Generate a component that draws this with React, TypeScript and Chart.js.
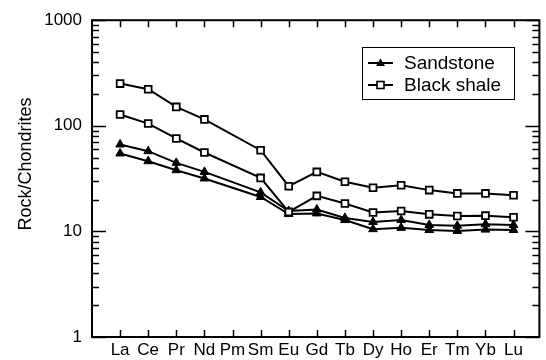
import React, { useEffect, useRef } from 'react';
import { Chart, registerables } from 'chart.js';

Chart.register(...registerables);

const elements = ['La', 'Ce', 'Pr', 'Nd', 'Pm', 'Sm', 'Eu', 'Gd', 'Tb', 'Dy', 'Ho', 'Er', 'Tm', 'Yb', 'Lu'];
const sandstoneA = [66.5, 57.5, 44.6, 36.6, null, 23.4, 15.6, 16.1, 13.4, 12.3, 12.8, 11.5, 11.3, 11.7, 11.5];
const sandstoneB = [54.7, 46.2, 38.0, 31.7, null, 21.2, 14.6, 14.8, 12.8, 10.5, 10.8, 10.3, 10.1, 10.4, 10.3];
const shaleA = [251, 222, 151, 115, null, 58.7, 26.8, 36.6, 29.5, 25.9, 27.4, 24.6, 22.9, 22.9, 22.0];
const shaleB = [128, 105, 75.9, 55.9, null, 32.1, 15.3, 21.7, 18.4, 15.1, 15.6, 14.5, 14.0, 14.1, 13.6];
const yMajorTicks = [1, 10, 100, 1000];
const legendLabels = ['Sandstone', 'Black shale'];
const yTitle = 'Rock/Chondrites';

const FONT = '"Liberation Sans", Arial, Helvetica, sans-serif';

const toPoints = (arr: (number | null)[]) => arr.map((v, i) => ({ x: i, y: v }));

const framePlugin = {
  id: 'frameTicks',
  beforeDatasetsDraw(chart: any) {
    const { ctx, chartArea } = chart;
    const { left, right, top, bottom } = chartArea;
    const xs = chart.scales.x;
    const ys = chart.scales.y;
    ctx.save();
    ctx.strokeStyle = '#000';
    ctx.lineWidth = 1.5;
    ctx.beginPath();
    elements.forEach((_, i) => {
      const px = Math.round(xs.getPixelForValue(i)) + 0.5;
      ctx.moveTo(px, bottom);
      ctx.lineTo(px, bottom - 7);
      ctx.moveTo(px, top);
      ctx.lineTo(px, top + 7);
    });
    yMajorTicks.forEach((d, idx) => {
      const py = Math.round(ys.getPixelForValue(d)) + 0.5;
      ctx.moveTo(left, py);
      ctx.lineTo(left + 14, py);
      ctx.moveTo(right, py);
      ctx.lineTo(right - 14, py);
      if (idx < yMajorTicks.length - 1) {
        for (let k = 2; k <= 9; k++) {
          const pm = Math.round(ys.getPixelForValue(d * k)) + 0.5;
          ctx.moveTo(left, pm);
          ctx.lineTo(left + 7, pm);
          ctx.moveTo(right, pm);
          ctx.lineTo(right - 7, pm);
        }
      }
    });
    ctx.stroke();
    ctx.lineWidth = 2;
    ctx.strokeRect(left, top, right - left, bottom - top);
    ctx.restore();
  },
  afterDraw(chart: any) {
    const { ctx } = chart;
    ctx.save();
    ctx.fillStyle = '#000';
    ctx.font = `18px ${FONT}`;
    ctx.translate(31, 164);
    ctx.rotate(-Math.PI / 2);
    ctx.textAlign = 'center';
    ctx.textBaseline = 'alphabetic';
    ctx.fillText(yTitle, 0, 0);
    ctx.restore();

    ctx.save();
    ctx.strokeStyle = '#000';
    ctx.lineWidth = 1;
    ctx.strokeRect(362.5, 47.5, 152, 52);
    const rows = [63, 85];
    rows.forEach((y, i) => {
      ctx.lineWidth = 2;
      ctx.beginPath();
      ctx.moveTo(368, y);
      ctx.lineTo(393, y);
      ctx.stroke();
      if (i === 0) {
        ctx.fillStyle = '#000';
        ctx.beginPath();
        ctx.moveTo(380.5, y - 4.5);
        ctx.lineTo(385, y + 3);
        ctx.lineTo(376, y + 3);
        ctx.closePath();
        ctx.fill();
      } else {
        ctx.fillStyle = '#fff';
        ctx.fillRect(377, y - 3.5, 7, 7);
        ctx.lineWidth = 1.6;
        ctx.strokeRect(377, y - 3.5, 7, 7);
      }
      ctx.fillStyle = '#000';
      ctx.font = `19px ${FONT}`;
      ctx.textAlign = 'left';
      ctx.textBaseline = 'middle';
      ctx.fillText(legendLabels[i], 404, y + 1);
    });
    ctx.restore();
  },
};

export default function App() {
  const canvasRef = useRef<HTMLCanvasElement | null>(null);

  useEffect(() => {
    const canvas = canvasRef.current;
    if (!canvas) return;
    const lineBase = { borderColor: '#000', borderWidth: 2, spanGaps: true, fill: false, tension: 0 };
    const chart = new Chart(canvas, {
      type: 'line',
      data: {
        datasets: [
          {
            ...lineBase,
            label: 'Black shale 1',
            data: toPoints(shaleA),
            pointStyle: 'rect',
            pointRadius: 4.8,
            pointBackgroundColor: '#fff',
            pointBorderColor: '#000',
            pointBorderWidth: 1.8,
          },
          {
            ...lineBase,
            label: 'Black shale 2',
            data: toPoints(shaleB),
            pointStyle: 'rect',
            pointRadius: 4.8,
            pointBackgroundColor: '#fff',
            pointBorderColor: '#000',
            pointBorderWidth: 1.8,
          },
          {
            ...lineBase,
            label: 'Sandstone 1',
            data: toPoints(sandstoneA),
            pointStyle: 'triangle',
            pointRadius: 5,
            pointBackgroundColor: '#000',
            pointBorderColor: '#000',
            pointBorderWidth: 1,
          },
          {
            ...lineBase,
            label: 'Sandstone 2',
            data: toPoints(sandstoneB),
            pointStyle: 'triangle',
            pointRadius: 5,
            pointBackgroundColor: '#000',
            pointBorderColor: '#000',
            pointBorderWidth: 1,
          },
        ] as any,
      },
      options: {
        animation: false,
        responsive: false,
        maintainAspectRatio: false,
        layout: { padding: { top: 20, right: 3, left: 0, bottom: 0 } },
        plugins: {
          legend: { display: false },
          tooltip: { enabled: false },
          title: { display: false },
        },
        scales: {
          x: {
            type: 'linear',
            min: -1,
            max: 14.92,
            grid: { display: false, drawTicks: false },
            border: { display: false },
            afterBuildTicks: (scale: any) => {
              scale.ticks = elements.map((_, i) => ({ value: i }));
            },
            afterFit: (scale: any) => {
              scale.height = 23;
            },
            ticks: {
              autoSkip: false,
              maxRotation: 0,
              minRotation: 0,
              padding: 3,
              color: '#000',
              font: { family: FONT, size: 17 },
              callback: (v: any) => elements[Math.round(Number(v))] ?? '',
            },
          },
          y: {
            type: 'logarithmic',
            min: 1,
            max: 1000,
            grid: { display: false, drawTicks: false },
            border: { display: false },
            afterBuildTicks: (scale: any) => {
              scale.ticks = yMajorTicks.map((v) => ({ value: v }));
            },
            afterFit: (scale: any) => {
              scale.width = 92;
            },
            ticks: {
              autoSkip: false,
              padding: 10,
              color: '#000',
              font: { family: FONT, size: 17 },
              callback: (v: any) => String(v),
            },
          },
        },
      },
      plugins: [framePlugin],
    });
    return () => chart.destroy();
  }, []);

  return (
    <div style={{ position: 'fixed', left: 0, top: 0, width: 546, height: 360, background: '#fff' }}>
      <canvas ref={canvasRef} width={546} height={360} style={{ display: 'block' }} />
    </div>
  );
}
